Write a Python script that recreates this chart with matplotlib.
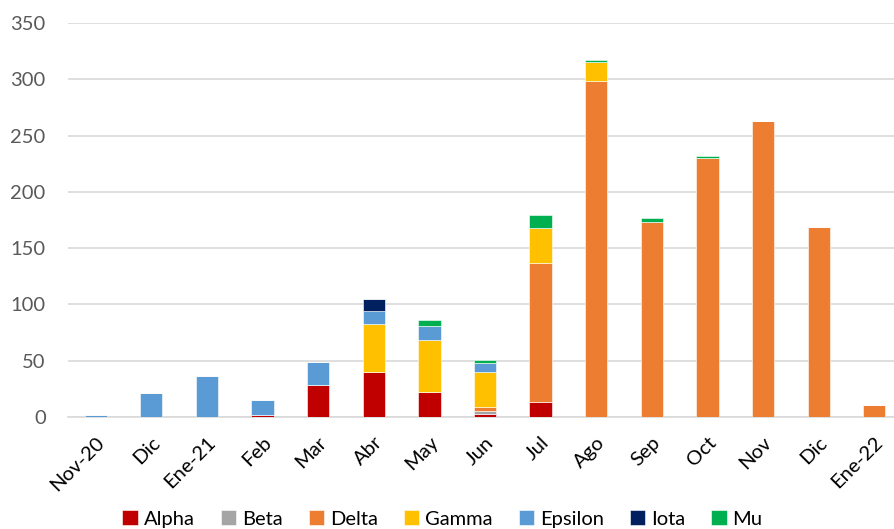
import matplotlib
matplotlib.use("Agg")
import matplotlib.pyplot as plt
import numpy as np

months = ["Nov-20", "Dic", "Ene-21", "Feb", "Mar", "Abr", "May", "Jun", "Jul",
          "Ago", "Sep", "Oct", "Nov", "Dic", "Ene-22"]
alpha   = [0, 0, 0, 1.5, 28, 40, 22, 3, 13, 0, 0, 0, 0, 0, 0]
beta    = [0, 0, 0, 0, 0, 0, 0, 2, 0, 0, 0, 0, 0, 0, 0]
delta   = [0, 0, 0, 0, 0, 0, 0, 4, 124, 298, 173, 230, 263, 169, 11]
gamma   = [0, 0, 0, 0, 0, 43, 46, 31, 31, 17, 0, 0, 0, 0, 0]
epsilon = [2, 21, 36, 13.5, 21, 11, 13, 8, 0, 0, 0, 0, 0, 0, 0]
iota    = [0, 0, 0, 0, 0, 11, 0, 0, 0, 0, 0, 0, 0, 0, 0]
mu      = [0, 0, 0, 0, 0, 0, 5, 3, 11, 2, 4, 1.5, 0, 0, 0]

series = [("Alpha", alpha, "#C00000"), ("Beta", beta, "#A5A5A5"),
          ("Delta", delta, "#ED7D31"), ("Gamma", gamma, "#FFC000"),
          ("Epsilon", epsilon, "#5B9BD5"), ("Iota", iota, "#002060"),
          ("Mu", mu, "#00B050")]

plt.rcParams['font.family'] = ['Lato', 'DejaVu Sans']
fig = plt.figure(figsize=(8.94, 5.29), dpi=100)
ax = fig.add_axes([0.076, 0.2117, 0.933, 0.745])

x = np.arange(len(months))
bottom = np.zeros(len(months))
for name, vals, col in series:
    v = np.array(vals, dtype=float)
    ax.bar(x, v, width=0.4, bottom=bottom, color=col, label=name,
           edgecolor="white", linewidth=0.4, zorder=3)
    bottom += v

ax.set_xlim(-0.5, len(months) - 0.5)
ax.set_ylim(0, 350)
ax.set_yticks(np.arange(0, 351, 50))
ax.yaxis.grid(True, color="#D9D9D9", linewidth=1.2, zorder=0)
ax.set_axisbelow(True)
for s in ["top", "right", "left"]:
    ax.spines[s].set_visible(False)
ax.spines["bottom"].set_color("#D9D9D9")
ax.spines["bottom"].set_linewidth(1.2)
ax.tick_params(axis="both", length=0, labelsize=14.5)
ax.tick_params(axis="y", pad=16, labelcolor="#595959")
ax.tick_params(axis="x", pad=12, labelcolor="#000000")
ax.set_xticks(x)
ax.set_xticklabels(months, rotation=45, ha="right", rotation_mode="anchor")

leg = fig.legend(loc="lower center", bbox_to_anchor=(0.495, -0.032), ncol=7,
                 frameon=False, fontsize=14.5, handlelength=0.75, handleheight=0.75,
                 handletextpad=0.3, columnspacing=1.3)
plt.savefig("out.png", dpi=100)
